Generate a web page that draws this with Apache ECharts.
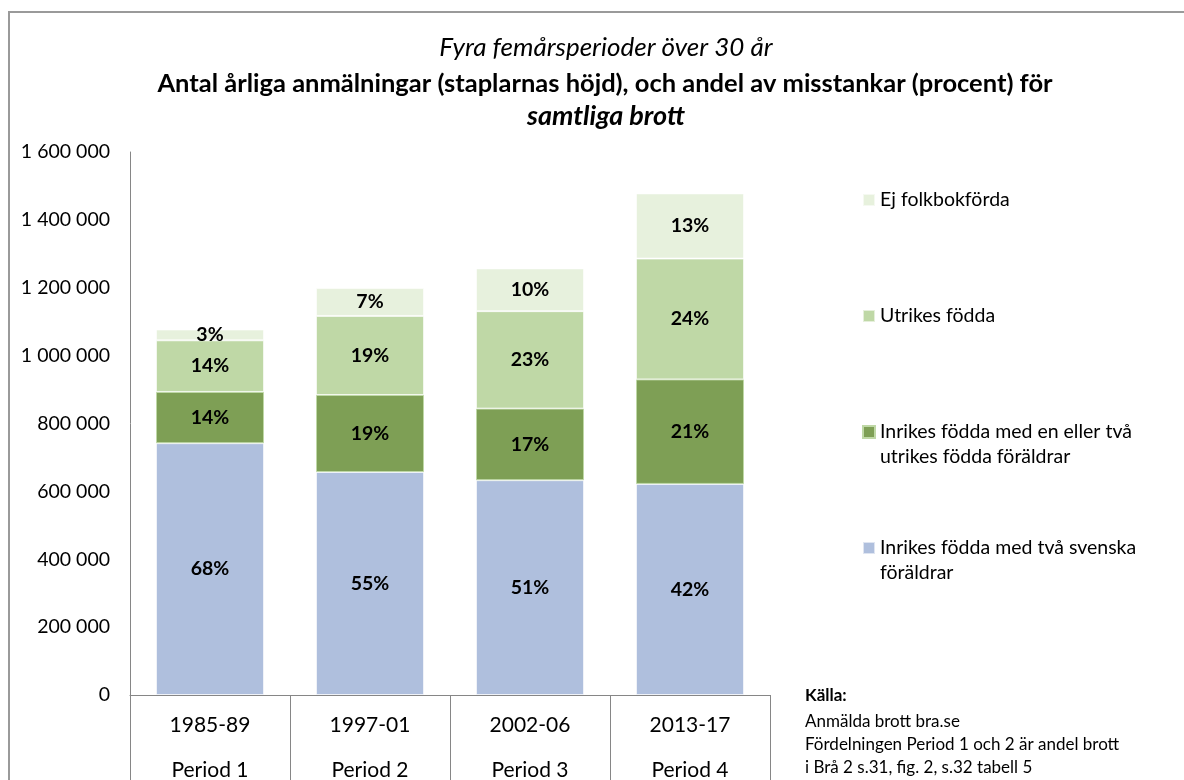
<!DOCTYPE html>
<html>
<head>
<meta charset="utf-8">
<script src="https://cdn.jsdelivr.net/npm/echarts@6/dist/echarts.min.js"></script>
<style>
html,body{margin:0;padding:0;background:#fff;overflow:hidden;}
#c{width:1184px;height:780px;}
</style>
</head>
<body>
<div id="c"></div>
<script>
var years = ['1985-89', '1997-01', '2002-06', '2013-17'];
var periods = ['Period 1', 'Period 2', 'Period 3', 'Period 4'];
var seriesNames = ['Inrikes födda med två svenska föräldrar', 'Inrikes födda med en eller två utrikes födda föräldrar', 'Utrikes födda', 'Ej folkbokförda'];
var legendLabels = ['Inrikes födda med två svenska\nföräldrar', 'Inrikes födda med en eller två\nutrikes födda föräldrar', 'Utrikes födda', 'Ej folkbokförda'];
var svenska = [742000, 657000, 633000, 622000];
var enEllerTva = [151000, 227000, 211000, 308000];
var utrikes = [152000, 233000, 287000, 356000];
var ejFolkbok = [32000, 82000, 126000, 192000];
var pctSvenska = ['68%', '55%', '51%', '42%'];
var pctEnEllerTva = ['14%', '19%', '17%', '21%'];
var pctUtrikes = ['14%', '19%', '23%', '24%'];
var pctEj = ['3%', '7%', '10%', '13%'];
var yTicks = [0, 200000, 400000, 600000, 800000, 1000000, 1200000, 1400000, 1600000];

var FONT = 'Lato, "Noto Sans", sans-serif';
var colors = ['#AFBFDD', '#7E9F55', '#BFD8A6', '#E7F1DD'];
var values = [svenska, enEllerTva, utrikes, ejFolkbok];
var pcts = [pctSvenska, pctEnEllerTva, pctUtrikes, pctEj];

function fmt(v) { return String(v).replace(/\B(?=(\d{3})+(?!\d))/g, ' '); }

var series = values.map(function (vals, i) {
  return {
    name: seriesNames[i],
    type: 'bar',
    stack: 'total',
    barWidth: '67.5%',
    data: vals,
    itemStyle: { color: colors[i], borderColor: i === 1 ? '#BFD8A6' : 'rgba(255,255,255,0.6)', borderWidth: 1 },
    label: {
      show: true,
      position: 'inside',
      color: '#000',
      fontFamily: FONT,
      fontWeight: 'bold',
      fontSize: 19.5,
      formatter: function (p) { return pcts[i][p.dataIndex]; }
    },
    emphasis: { disabled: true }
  };
});

var legendTops = [548 - 37.5, 432 - 37.5, 316 - 12.5, 200 - 12.5];
var legends = [3, 2, 1, 0].map(function (i) {
  var two = legendLabels[i].indexOf('\n') >= 0;
  return {
    data: [seriesNames[i]],
    left: 862,
    top: legendTops[i],
    padding: 0,
    itemWidth: 12,
    itemHeight: 12,
    icon: 'rect',
    selectedMode: false,
    formatter: function () { return two ? '\n' + legendLabels[i] : legendLabels[i]; },
    textStyle: { fontFamily: FONT, fontSize: 19.5, color: '#000', lineHeight: 25 }
  };
});

var chart = echarts.init(document.getElementById('c'), null, { renderer: 'canvas', width: 1184, height: 780 });
chart.setOption({
  animation: false,
  backgroundColor: '#fff',
  title: [
    { text: 'Fyra femårsperioder över 30 år', left: 601, top: 30, textAlign: 'center',
      textStyle: { fontFamily: FONT, fontStyle: 'italic', fontWeight: 'normal', fontSize: 26, color: '#000' } },
    { text: 'Antal årliga anmälningar (staplarnas höjd), och andel av misstankar (procent) för', left: 600, top: 66, textAlign: 'center',
      textStyle: { fontFamily: FONT, fontWeight: 'bold', fontSize: 25.5, color: '#000' } },
    { text: 'samtliga brott', left: 601, top: 98, textAlign: 'center',
      textStyle: { fontFamily: FONT, fontStyle: 'italic', fontWeight: 'bold', fontSize: 27, color: '#000' } }
  ],
  legend: legends,
  grid: { left: 130, width: 640, top: 152, height: 543, containLabel: false, outerBoundsMode: 'none' },
  xAxis: {
    type: 'category',
    data: years,
    axisLine: { show: true, lineStyle: { color: '#868686', width: 1 } },
    axisTick: { show: true, length: 90, interval: 0, lineStyle: { color: '#868686' } },
    axisLabel: {
      interval: 0, margin: 8, lineHeight: 45,
      fontFamily: FONT, fontSize: 21, color: '#000',
      formatter: function (v, idx) { return v + '\n' + periods[idx]; }
    }
  },
  yAxis: {
    type: 'value',
    min: yTicks[0],
    max: yTicks[yTicks.length - 1],
    interval: yTicks[1] - yTicks[0],
    splitLine: { show: false },
    axisLine: { show: true, lineStyle: { color: '#868686', width: 1 } },
    axisTick: { show: false },
    axisLabel: { margin: 20, fontFamily: FONT, fontSize: 19.5, color: '#000', formatter: fmt }
  },
  graphic: [
    { type: 'rect', shape: { x: 9, y: 12, width: 1300, height: 900 }, style: { fill: 'none', stroke: '#9a9a9a', lineWidth: 2 }, silent: true, z: 100 },
    { type: 'text', left: 805, top: 687, style: { text: 'Källa:', font: 'bold 17px ' + FONT, fill: '#000' } },
    { type: 'text', left: 805, top: 710, style: { text: 'Anmälda brott bra.se\nFördelningen Period 1 och 2 är andel brott\ni Brå 2 s.31, fig. 2, s.32 tabell 5', font: '17px ' + FONT, fill: '#000', lineHeight: 23 } }
  ],
  series: series
});
</script>
</body>
</html>
